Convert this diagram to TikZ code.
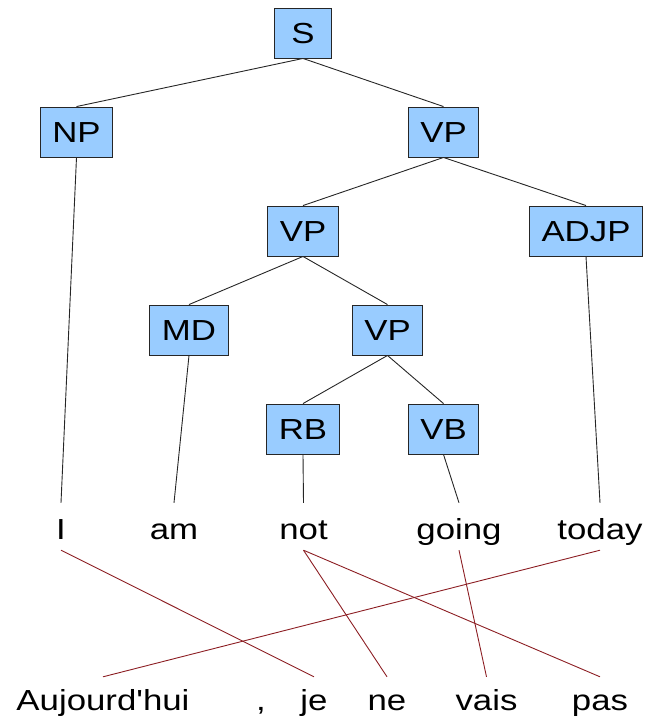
\documentclass[tikz,border=0pt]{standalone}
\usepackage{fontspec}
\setmainfont[FakeStretch=1.2]{Liberation Sans}
\newfontfamily\rawfont[FakeStretch=1.2]{Liberation Sans}
\definecolor{catblue}{HTML}{99CCFF}
\definecolor{alignred}{RGB}{140,30,35}
\tikzset{
  cat/.style={draw=black!85, line width=0.9pt, fill=catblue, minimum width=57pt, minimum height=50pt,
    inner xsep=12pt, inner ysep=0pt, font=\fontsize{29}{29}\selectfont, text height=21pt, text depth=0pt},
  topword/.style={inner sep=0pt, font=\fontsize{29}{29}\selectfont, text height=36pt, text depth=11pt},
  botword/.style={inner sep=0pt, font=\rawfont\fontsize{29}{29}\selectfont, text height=33pt, text depth=8pt},
  treeline/.style={black!85, line width=0.9pt},
  alignline/.style={alignred, line width=0.9pt}
}
\begin{document}
\begin{tikzpicture}[x=1pt,y=-1pt]
\useasboundingbox (0,0) rectangle (645,718);
% constituent boxes
\node[cat] (S)    at (303,33)   {S};
\node[cat] (NP)   at (76.5,132) {NP};
\node[cat] (VPa)  at (443.5,132) {VP};
\node[cat] (VPb)  at (303,231)  {VP};
\node[cat] (ADJP) at (586,231)  {ADJP};
\node[cat] (MD)   at (189,330)  {MD};
\node[cat] (VPc)  at (387.5,330) {VP};
\node[cat] (RB)   at (303,429)  {RB};
\node[cat] (VB)   at (443.5,429) {VB};
% english words (baseline 539)
\node[topword, anchor=base] (wI)     at (61,539)  {I};
\node[topword, anchor=base] (wam)    at (174,539) {am};
\node[topword, anchor=base] (wnot)   at (303.5,539) {not};
\node[topword, anchor=base] (wgoing) at (459,539) {going};
\node[topword, anchor=base] (wtoday) at (600,539) {today};
% french words (baseline 710)
\node[botword, anchor=base] (fauj)  at (103,710) {Aujourd'hui};
\node[botword, anchor=base] (fcom)  at (261,710) {,};
\node[botword, anchor=base] (fje)   at (314,710) {je};
\node[botword, anchor=base] (fne)   at (387,710) {ne};
\node[botword, anchor=base] (fvais) at (486.5,710) {vais};
\node[botword, anchor=base] (fpas)  at (600,710) {pas};
% tree edges
\draw[treeline] (S.south) -- (NP.north);
\draw[treeline] (S.south) -- (VPa.north);
\draw[treeline] (VPa.south) -- (VPb.north);
\draw[treeline] (VPa.south) -- (ADJP.north);
\draw[treeline] (VPb.south) -- (MD.north);
\draw[treeline] (VPb.south) -- (VPc.north);
\draw[treeline] (VPc.south) -- (RB.north);
\draw[treeline] (VPc.south) -- (VB.north);
\draw[treeline] (NP.south) -- (wI.north);
\draw[treeline] (MD.south) -- (wam.north);
\draw[treeline] (RB.south) -- (wnot.north);
\draw[treeline] (VB.south) -- (wgoing.north);
\draw[treeline] (ADJP.south) -- (wtoday.north);
% alignment links
\draw[alignline] (wI.south) -- (fje.north);
\draw[alignline] (wnot.south) -- (fne.north);
\draw[alignline] (wnot.south) -- (fpas.north);
\draw[alignline] (wgoing.south) -- (fvais.north);
\draw[alignline] (wtoday.south) -- (fauj.north);
\end{tikzpicture}
\end{document}
